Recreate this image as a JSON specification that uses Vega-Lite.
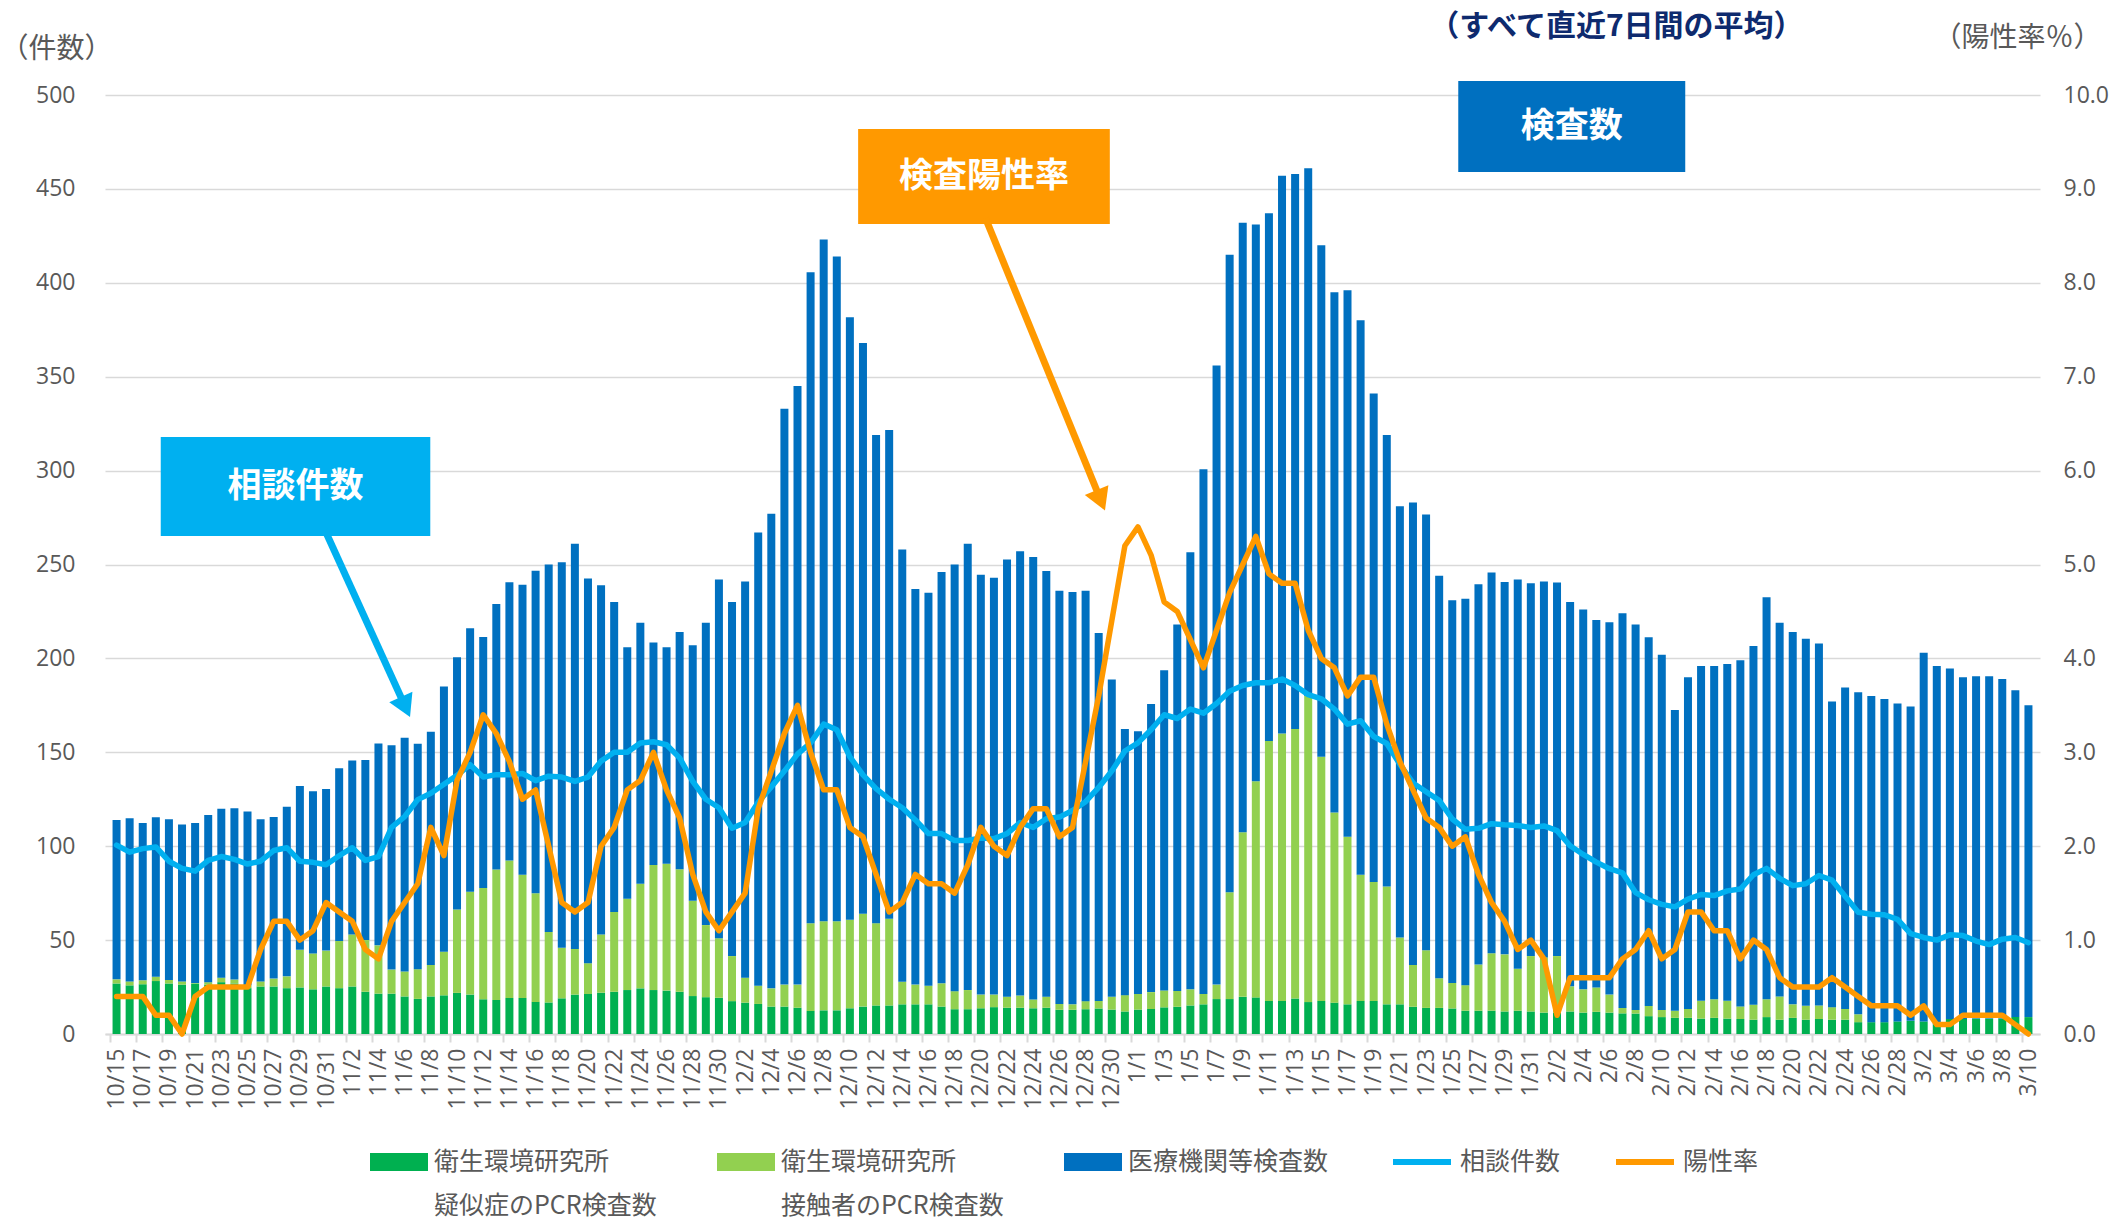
{
"$schema": "https://vega.github.io/schema/vega-lite/v6.json",
"width": 1935, "height": 939,
"autosize": {"type": "none"},
"padding": {"left": 105, "top": 95, "right": 87, "bottom": 187},
"background": "white",
"config": {"view": {"stroke": null}, "font": "Noto Sans CJK JP",
"axisX": {"labelAngle": -90, "labelAlign": "right", "labelBaseline": "middle", "labelPadding": 6,
"labelFontSize": 23, "labelColor": "#595959", "labelFont": "Open Sans",
"labelOverlap": false, "labelFlush": false, "labelBound": false, "labelSeparation": 0,
"tickOffset": -6.58, "labelOffset": 6.58, "tickSize": 8, "tickColor": "#D9D9D9", "tickWidth": 2, "tickCount": 200,
"domainColor": "#D9D9D9", "domainWidth": 2, "grid": false}},
"data": {"values": [
{"d":"2020-10-15","a":26.9,"b":2.2,"c":84.9,"s":100.6,"r":0.4},
{"d":"2020-10-16","a":25.9,"b":2.1,"c":86.9,"s":96.8,"r":0.4},
{"d":"2020-10-17","a":26.5,"b":2.1,"c":83.8,"s":98.7,"r":0.4},
{"d":"2020-10-18","a":28.2,"b":2.3,"c":84.9,"s":99.6,"r":0.2},
{"d":"2020-10-19","a":26.9,"b":1.9,"c":85.5,"s":92,"r":0.2},
{"d":"2020-10-20","a":26.3,"b":1.7,"c":83.6,"s":88.2,"r":0},
{"d":"2020-10-21","a":26.9,"b":0.3,"c":85.2,"s":86.7,"r":0.4},
{"d":"2020-10-22","a":26.3,"b":1.3,"c":89,"s":92.4,"r":0.5},
{"d":"2020-10-23","a":27.6,"b":2.4,"c":90,"s":94.5,"r":0.5},
{"d":"2020-10-24","a":26.9,"b":2.1,"c":91.2,"s":93,"r":0.5},
{"d":"2020-10-25","a":24.4,"b":1.6,"c":92.5,"s":90.5,"r":0.5},
{"d":"2020-10-26","a":25.3,"b":2.7,"c":86.3,"s":92,"r":0.9},
{"d":"2020-10-27","a":25.3,"b":4.2,"c":86.1,"s":97.7,"r":1.2},
{"d":"2020-10-28","a":24.4,"b":6.3,"c":90.3,"s":99.2,"r":1.2},
{"d":"2020-10-29","a":24.8,"b":20,"c":87.2,"s":92,"r":1},
{"d":"2020-10-30","a":23.8,"b":19.1,"c":86.4,"s":91.4,"r":1.1},
{"d":"2020-10-31","a":25.3,"b":19.1,"c":86.1,"s":90.1,"r":1.4},
{"d":"2020-11-01","a":24.4,"b":25.1,"c":92,"s":94.9,"r":1.3},
{"d":"2020-11-02","a":25.3,"b":27.7,"c":92.7,"s":99.2,"r":1.2},
{"d":"2020-11-03","a":22.5,"b":27.5,"c":95.9,"s":92.4,"r":0.9},
{"d":"2020-11-04","a":21.5,"b":25.7,"c":107.5,"s":94.5,"r":0.8},
{"d":"2020-11-05","a":21.5,"b":12.8,"c":119.4,"s":110,"r":1.2},
{"d":"2020-11-06","a":20,"b":13.3,"c":124.4,"s":115.8,"r":1.4},
{"d":"2020-11-07","a":18.7,"b":15.8,"c":120,"s":124.8,"r":1.6},
{"d":"2020-11-08","a":20,"b":16.8,"c":124.2,"s":128.2,"r":2.2},
{"d":"2020-11-09","a":20.6,"b":23.2,"c":141.2,"s":133,"r":1.9},
{"d":"2020-11-10","a":21.9,"b":44.4,"c":134.3,"s":137.7,"r":2.7},
{"d":"2020-11-11","a":21,"b":54.8,"c":140.2,"s":143.4,"r":3},
{"d":"2020-11-12","a":18.5,"b":59.2,"c":133.7,"s":136.8,"r":3.4},
{"d":"2020-11-13","a":18.1,"b":69.5,"c":141.4,"s":138.1,"r":3.2},
{"d":"2020-11-14","a":19.2,"b":73.2,"c":148.2,"s":138.1,"r":2.9},
{"d":"2020-11-15","a":19.2,"b":65.6,"c":154.4,"s":138.7,"r":2.5},
{"d":"2020-11-16","a":17.1,"b":57.8,"c":171.8,"s":134.9,"r":2.6},
{"d":"2020-11-17","a":16.8,"b":37.5,"c":195.7,"s":137.3,"r":2},
{"d":"2020-11-18","a":19,"b":26.9,"c":205.3,"s":136.8,"r":1.4},
{"d":"2020-11-19","a":21,"b":24.3,"c":215.7,"s":134.5,"r":1.3},
{"d":"2020-11-20","a":21.3,"b":16.4,"c":204.8,"s":136.8,"r":1.4},
{"d":"2020-11-21","a":22,"b":31,"c":186,"s":145.3,"r":2},
{"d":"2020-11-22","a":22.5,"b":42.5,"c":165,"s":150,"r":2.2},
{"d":"2020-11-23","a":23.4,"b":48.6,"c":134,"s":150,"r":2.6},
{"d":"2020-11-24","a":24.3,"b":55.7,"c":139,"s":155,"r":2.7},
{"d":"2020-11-25","a":23.4,"b":66.6,"c":118.5,"s":155.6,"r":3},
{"d":"2020-11-26","a":23.1,"b":67.5,"c":115.4,"s":154,"r":2.6},
{"d":"2020-11-27","a":22.5,"b":65.2,"c":126.3,"s":147,"r":2.3},
{"d":"2020-11-28","a":20.2,"b":50.8,"c":136,"s":134.5,"r":1.7},
{"d":"2020-11-29","a":19.6,"b":38.4,"c":161,"s":125,"r":1.3},
{"d":"2020-11-30","a":19.3,"b":31.7,"c":191,"s":120.5,"r":1.1},
{"d":"2020-12-01","a":17.5,"b":24,"c":188.5,"s":109.6,"r":1.3},
{"d":"2020-12-02","a":16.7,"b":13.3,"c":211,"s":112.6,"r":1.5},
{"d":"2020-12-03","a":16,"b":9.7,"c":241.3,"s":123.4,"r":2.4},
{"d":"2020-12-04","a":14.6,"b":9.7,"c":252.7,"s":131.6,"r":2.8},
{"d":"2020-12-05","a":14.6,"b":11.7,"c":306.7,"s":140,"r":3.2},
{"d":"2020-12-06","a":14,"b":12.3,"c":318.7,"s":149,"r":3.5},
{"d":"2020-12-07","a":12.3,"b":46.7,"c":346.6,"s":155,"r":3},
{"d":"2020-12-08","a":12.6,"b":47.4,"c":363,"s":165,"r":2.6},
{"d":"2020-12-09","a":12.6,"b":47.4,"c":354,"s":162,"r":2.6},
{"d":"2020-12-10","a":13.7,"b":47.1,"c":320.8,"s":147.6,"r":2.2},
{"d":"2020-12-11","a":14.6,"b":49.4,"c":304,"s":138,"r":2.1},
{"d":"2020-12-12","a":15.2,"b":43.8,"c":260,"s":130.7,"r":1.7},
{"d":"2020-12-13","a":15.2,"b":46.2,"c":260.2,"s":125,"r":1.3},
{"d":"2020-12-14","a":15.8,"b":12,"c":230.2,"s":120.5,"r":1.4},
{"d":"2020-12-15","a":15.8,"b":10.5,"c":210.7,"s":114,"r":1.7},
{"d":"2020-12-16","a":15.8,"b":9.9,"c":209.3,"s":106.7,"r":1.6},
{"d":"2020-12-17","a":14.6,"b":12.4,"c":219,"s":106.7,"r":1.6},
{"d":"2020-12-18","a":13.2,"b":9.6,"c":227.2,"s":103,"r":1.5},
{"d":"2020-12-19","a":13.2,"b":10.2,"c":237.6,"s":103,"r":1.8},
{"d":"2020-12-20","a":13.7,"b":7.3,"c":223.5,"s":104.4,"r":2.2},
{"d":"2020-12-21","a":14.3,"b":6.7,"c":222,"s":104,"r":2},
{"d":"2020-12-22","a":14,"b":5.9,"c":232.7,"s":106.7,"r":1.9},
{"d":"2020-12-23","a":14,"b":6.5,"c":236.5,"s":112.6,"r":2.2},
{"d":"2020-12-24","a":13.7,"b":4.7,"c":235.6,"s":110,"r":2.4},
{"d":"2020-12-25","a":14,"b":5.9,"c":226.6,"s":114.6,"r":2.4},
{"d":"2020-12-26","a":12.9,"b":3.1,"c":220,"s":115.5,"r":2.1},
{"d":"2020-12-27","a":12.9,"b":2.9,"c":219.6,"s":119,"r":2.2},
{"d":"2020-12-28","a":13.2,"b":4.3,"c":218.5,"s":123.7,"r":2.9},
{"d":"2020-12-29","a":13.6,"b":4,"c":195.9,"s":131.3,"r":3.6},
{"d":"2020-12-30","a":13,"b":6.8,"c":168.9,"s":140,"r":4.4},
{"d":"2020-12-31","a":12,"b":8.7,"c":141.7,"s":150.7,"r":5.2},
{"d":"2021-01-01","a":13,"b":8.3,"c":139.9,"s":155,"r":5.4},
{"d":"2021-01-02","a":13.3,"b":9,"c":153.4,"s":162,"r":5.1},
{"d":"2021-01-03","a":14.2,"b":9,"c":170.5,"s":170,"r":4.6},
{"d":"2021-01-04","a":14.5,"b":8.4,"c":195.1,"s":168,"r":4.5},
{"d":"2021-01-05","a":15.2,"b":8.6,"c":232.7,"s":173,"r":4.2},
{"d":"2021-01-06","a":15.8,"b":5.5,"c":279.4,"s":170.8,"r":3.9},
{"d":"2021-01-07","a":18.6,"b":7.7,"c":329.7,"s":176,"r":4.3},
{"d":"2021-01-08","a":18.6,"b":56.9,"c":339.5,"s":182.5,"r":4.7},
{"d":"2021-01-09","a":19.8,"b":87.6,"c":324.6,"s":185.6,"r":5},
{"d":"2021-01-10","a":19.5,"b":115.1,"c":296.4,"s":187,"r":5.3},
{"d":"2021-01-11","a":17.6,"b":138.4,"c":281,"s":187,"r":4.9},
{"d":"2021-01-12","a":17.6,"b":142.4,"c":297,"s":189,"r":4.8},
{"d":"2021-01-13","a":18.9,"b":143.5,"c":295.6,"s":185.6,"r":4.8},
{"d":"2021-01-14","a":17,"b":163,"c":281,"s":180.7,"r":4.3},
{"d":"2021-01-15","a":17.6,"b":130,"c":272.4,"s":178.5,"r":4},
{"d":"2021-01-16","a":16.7,"b":101.3,"c":277,"s":173,"r":3.9},
{"d":"2021-01-17","a":15.8,"b":89.2,"c":291,"s":165,"r":3.6},
{"d":"2021-01-18","a":17.6,"b":67.2,"c":295.2,"s":166.8,"r":3.8},
{"d":"2021-01-19","a":17.6,"b":63.4,"c":260,"s":158.4,"r":3.8},
{"d":"2021-01-20","a":15.8,"b":62.8,"c":240.4,"s":154.7,"r":3.3},
{"d":"2021-01-21","a":15.8,"b":35.6,"c":229.6,"s":143.6,"r":2.9},
{"d":"2021-01-22","a":14.5,"b":22.3,"c":246.2,"s":133.7,"r":2.6},
{"d":"2021-01-23","a":13.9,"b":30.7,"c":232,"s":129,"r":2.3},
{"d":"2021-01-24","a":13.9,"b":15.8,"c":214.3,"s":124.4,"r":2.2},
{"d":"2021-01-25","a":13.6,"b":13.6,"c":203.8,"s":114.5,"r":2},
{"d":"2021-01-26","a":12.4,"b":13.6,"c":205.7,"s":109,"r":2.1},
{"d":"2021-01-27","a":12.4,"b":24.6,"c":202.5,"s":109.5,"r":1.7},
{"d":"2021-01-28","a":12.4,"b":30.6,"c":202.7,"s":112,"r":1.4},
{"d":"2021-01-29","a":12,"b":30.4,"c":198.3,"s":111.4,"r":1.2},
{"d":"2021-01-30","a":12.4,"b":22.3,"c":207.3,"s":111,"r":0.9},
{"d":"2021-01-31","a":12,"b":29.5,"c":198.5,"s":110,"r":1},
{"d":"2021-02-01","a":11.4,"b":29.4,"c":200.2,"s":110.8,"r":0.8},
{"d":"2021-02-02","a":11.4,"b":30.1,"c":198.9,"s":108.3,"r":0.2},
{"d":"2021-02-03","a":12,"b":13.4,"c":204.6,"s":100.2,"r":0.6},
{"d":"2021-02-04","a":11.4,"b":12.4,"c":202.2,"s":95.6,"r":0.6},
{"d":"2021-02-05","a":11.8,"b":13,"c":195.7,"s":91.5,"r":0.6},
{"d":"2021-02-06","a":11.4,"b":9.6,"c":198.3,"s":88,"r":0.6},
{"d":"2021-02-07","a":11,"b":2.9,"c":210.1,"s":85.8,"r":0.8},
{"d":"2021-02-08","a":10.9,"b":1.9,"c":205.2,"s":75.3,"r":0.9},
{"d":"2021-02-09","a":9.5,"b":5.4,"c":196.4,"s":71.5,"r":1.1},
{"d":"2021-02-10","a":9,"b":3.8,"c":189.2,"s":69,"r":0.8},
{"d":"2021-02-11","a":8.6,"b":3.8,"c":160.1,"s":67.7,"r":0.9},
{"d":"2021-02-12","a":8.6,"b":4.7,"c":176.7,"s":71.8,"r":1.3},
{"d":"2021-02-13","a":8.2,"b":9.5,"c":178.3,"s":74.3,"r":1.3},
{"d":"2021-02-14","a":8.6,"b":9.9,"c":177.5,"s":73.7,"r":1.1},
{"d":"2021-02-15","a":8.2,"b":9.5,"c":179.3,"s":76.2,"r":1.1},
{"d":"2021-02-16","a":8,"b":6.7,"c":184.3,"s":77.2,"r":0.8},
{"d":"2021-02-17","a":7.6,"b":8,"c":191,"s":84.8,"r":1},
{"d":"2021-02-18","a":9,"b":9.5,"c":214,"s":88.2,"r":0.9},
{"d":"2021-02-19","a":7.6,"b":12.4,"c":199,"s":82.9,"r":0.6},
{"d":"2021-02-20","a":8.6,"b":7.2,"c":198.2,"s":79,"r":0.5},
{"d":"2021-02-21","a":7.6,"b":7.4,"c":195.5,"s":80,"r":0.5},
{"d":"2021-02-22","a":8,"b":7.2,"c":192.8,"s":84.4,"r":0.5},
{"d":"2021-02-23","a":7.6,"b":6.7,"c":162.7,"s":81.9,"r":0.6},
{"d":"2021-02-24","a":7.6,"b":5.7,"c":171.2,"s":73.4,"r":0.5},
{"d":"2021-02-25","a":6.3,"b":4.2,"c":171.5,"s":64.8,"r":0.4},
{"d":"2021-02-26","a":6.3,"b":0,"c":173.7,"s":63.8,"r":0.3},
{"d":"2021-02-27","a":6.3,"b":0,"c":172.1,"s":63.5,"r":0.3},
{"d":"2021-02-28","a":6.7,"b":0,"c":169.3,"s":61,"r":0.3},
{"d":"2021-03-01","a":7,"b":0,"c":167.4,"s":53.4,"r":0.2},
{"d":"2021-03-02","a":6.7,"b":0,"c":196.3,"s":51.4,"r":0.3},
{"d":"2021-03-03","a":5.1,"b":0,"c":190.9,"s":50,"r":0.1},
{"d":"2021-03-04","a":8,"b":0,"c":186.6,"s":52.8,"r":0.1},
{"d":"2021-03-05","a":8,"b":0,"c":182,"s":52.4,"r":0.2},
{"d":"2021-03-06","a":8.2,"b":0,"c":182.3,"s":49.5,"r":0.2},
{"d":"2021-03-07","a":8.2,"b":0,"c":182.3,"s":47.6,"r":0.2},
{"d":"2021-03-08","a":8.2,"b":0,"c":180.8,"s":50.5,"r":0.2},
{"d":"2021-03-09","a":9.1,"b":0,"c":173.9,"s":51.4,"r":0.1},
{"d":"2021-03-10","a":9,"b":0,"c":166,"s":48.6,"r":0}
]},
"layer": [
{"layer": [
{
"transform": [{"fold": ["a","b","c"], "as": ["k","v"]}],
"mark": {"type": "bar", "width": 8},
"encoding": {
"x": {"field": "d", "type": "temporal",
"scale": {"type": "utc", "domain": [{"year":2020,"month":10,"date":14,"hours":12,"utc":true},{"year":2021,"month":3,"date":10,"hours":12,"utc":true}]},
"axis": {"title": null, "labelExpr": "utcFormat(datum.value, '%-m/%-d')", "labelOverlap": false, "tickCount": 200,
"values": [
{"year":2020,"month":10,"date":15,"utc":true},{"year":2020,"month":10,"date":17,"utc":true},{"year":2020,"month":10,"date":19,"utc":true},{"year":2020,"month":10,"date":21,"utc":true},{"year":2020,"month":10,"date":23,"utc":true},{"year":2020,"month":10,"date":25,"utc":true},{"year":2020,"month":10,"date":27,"utc":true},{"year":2020,"month":10,"date":29,"utc":true},{"year":2020,"month":10,"date":31,"utc":true},
{"year":2020,"month":11,"date":2,"utc":true},{"year":2020,"month":11,"date":4,"utc":true},{"year":2020,"month":11,"date":6,"utc":true},{"year":2020,"month":11,"date":8,"utc":true},{"year":2020,"month":11,"date":10,"utc":true},{"year":2020,"month":11,"date":12,"utc":true},{"year":2020,"month":11,"date":14,"utc":true},{"year":2020,"month":11,"date":16,"utc":true},{"year":2020,"month":11,"date":18,"utc":true},{"year":2020,"month":11,"date":20,"utc":true},{"year":2020,"month":11,"date":22,"utc":true},{"year":2020,"month":11,"date":24,"utc":true},{"year":2020,"month":11,"date":26,"utc":true},{"year":2020,"month":11,"date":28,"utc":true},{"year":2020,"month":11,"date":30,"utc":true},
{"year":2020,"month":12,"date":2,"utc":true},{"year":2020,"month":12,"date":4,"utc":true},{"year":2020,"month":12,"date":6,"utc":true},{"year":2020,"month":12,"date":8,"utc":true},{"year":2020,"month":12,"date":10,"utc":true},{"year":2020,"month":12,"date":12,"utc":true},{"year":2020,"month":12,"date":14,"utc":true},{"year":2020,"month":12,"date":16,"utc":true},{"year":2020,"month":12,"date":18,"utc":true},{"year":2020,"month":12,"date":20,"utc":true},{"year":2020,"month":12,"date":22,"utc":true},{"year":2020,"month":12,"date":24,"utc":true},{"year":2020,"month":12,"date":26,"utc":true},{"year":2020,"month":12,"date":28,"utc":true},{"year":2020,"month":12,"date":30,"utc":true},
{"year":2021,"month":1,"date":1,"utc":true},{"year":2021,"month":1,"date":3,"utc":true},{"year":2021,"month":1,"date":5,"utc":true},{"year":2021,"month":1,"date":7,"utc":true},{"year":2021,"month":1,"date":9,"utc":true},{"year":2021,"month":1,"date":11,"utc":true},{"year":2021,"month":1,"date":13,"utc":true},{"year":2021,"month":1,"date":15,"utc":true},{"year":2021,"month":1,"date":17,"utc":true},{"year":2021,"month":1,"date":19,"utc":true},{"year":2021,"month":1,"date":21,"utc":true},{"year":2021,"month":1,"date":23,"utc":true},{"year":2021,"month":1,"date":25,"utc":true},{"year":2021,"month":1,"date":27,"utc":true},{"year":2021,"month":1,"date":29,"utc":true},{"year":2021,"month":1,"date":31,"utc":true},
{"year":2021,"month":2,"date":2,"utc":true},{"year":2021,"month":2,"date":4,"utc":true},{"year":2021,"month":2,"date":6,"utc":true},{"year":2021,"month":2,"date":8,"utc":true},{"year":2021,"month":2,"date":10,"utc":true},{"year":2021,"month":2,"date":12,"utc":true},{"year":2021,"month":2,"date":14,"utc":true},{"year":2021,"month":2,"date":16,"utc":true},{"year":2021,"month":2,"date":18,"utc":true},{"year":2021,"month":2,"date":20,"utc":true},{"year":2021,"month":2,"date":22,"utc":true},{"year":2021,"month":2,"date":24,"utc":true},{"year":2021,"month":2,"date":26,"utc":true},{"year":2021,"month":2,"date":28,"utc":true},
{"year":2021,"month":3,"date":2,"utc":true},{"year":2021,"month":3,"date":4,"utc":true},{"year":2021,"month":3,"date":6,"utc":true},{"year":2021,"month":3,"date":8,"utc":true},{"year":2021,"month":3,"date":10,"utc":true}]}},
"y": {"field": "v", "type": "quantitative", "stack": "zero",
"scale": {"domain": [0, 500], "nice": false},
"axis": {"values": [0,50,100,150,200,250,300,350,400,450,500], "grid": true, "gridColor": "#D9D9D9", "gridWidth": 1.5,
"domain": false, "ticks": false, "labelPadding": 30, "labelFontSize": 23, "labelColor": "#595959", "labelFont": "Open Sans",
"title": "（件数）", "titleAngle": 0, "titleAlign": "left", "titleBaseline": "middle", "titleX": -105, "titleY": -46,
"titleFontSize": 28, "titleFontWeight": "normal", "titleColor": "#595959", "titleFont": "Noto Sans CJK JP"}},
"color": {"field": "k", "type": "nominal",
"scale": {"domain": ["a","b","c"], "range": ["#00B050","#92D050","#0070C0"]},
"legend": {"orient": "none", "legendX": 265, "legendY": 1038, "direction": "horizontal", "title": null,
"symbolType": "M-1,-0.31H1V0.31H-1Z", "symbolSize": 3364, "symbolStrokeWidth": 0, "symbolOpacity": 1,
"labelExpr": "datum.value == 'a' ? ['衛生環境研究所', '疑似症のPCR検査数'] : datum.value == 'b' ? ['衛生環境研究所', '接触者のPCR検査数'] : ['医療機関等検査数', '']",
"labelFontSize": 25, "labelColor": "#595959", "labelFont": "Noto Sans CJK JP", "labelOffset": 6, "columnPadding": 60, "labelLimit": 400,
"encode": {"labels": {"update": {"lineHeight": {"value": 44}}}}}},
"order": {"field": "k", "sort": "ascending"}
}
},
{
"mark": {"type": "line", "strokeWidth": 5.5, "strokeJoin": "round", "strokeCap": "round"},
"encoding": {
"x": {"field": "d", "type": "temporal", "scale": {"type": "utc", "domain": [{"year":2020,"month":10,"date":14,"hours":12,"utc":true},{"year":2021,"month":3,"date":10,"hours":12,"utc":true}]}},
"y": {"field": "s", "type": "quantitative", "scale": {"domain": [0, 500], "nice": false}},
"stroke": {"datum": "相談件数", "type": "nominal",
"scale": {"domain": ["相談件数","陽性率"], "range": ["#00B0F0","#FF9900"]},
"legend": {"orient": "none", "legendX": 1285, "legendY": 1035, "direction": "horizontal", "title": null,
"symbolType": "stroke", "symbolSize": 3364, "symbolStrokeWidth": 6,
"labelFontSize": 25, "labelColor": "#595959", "labelFont": "Noto Sans CJK JP", "labelOffset": 6, "columnPadding": 43, "labelLimit": 400}}
}
},
{
"data": {"values": [{}]},
"mark": {"type": "rect", "color": "#00B0F0"},
"encoding": {
"x": {"datum": {"year":2020,"month":10,"date":18,"hours":9,"utc":true}, "type": "temporal"},
"x2": {"datum": {"year":2020,"month":11,"date":7,"hours":23,"utc":true}},
"y": {"datum": 317.9, "type": "quantitative"},
"y2": {"datum": 265.2}
}
},
{
"data": {"values": [{}]},
"mark": {"type": "rect", "color": "#FF9900"},
"encoding": {
"x": {"datum": {"year":2020,"month":12,"date":10,"hours":15,"minutes":7,"utc":true}, "type": "temporal"},
"x2": {"datum": {"year":2020,"month":12,"date":29,"hours":20,"minutes":24,"utc":true}},
"y": {"datum": 481.9, "type": "quantitative"},
"y2": {"datum": 431.3}
}
},
{
"data": {"values": [{}]},
"mark": {"type": "rect", "color": "#0070C0"},
"encoding": {
"x": {"datum": {"year":2021,"month":1,"date":25,"hours":11,"utc":true}, "type": "temporal"},
"x2": {"datum": {"year":2021,"month":2,"date":11,"hours":19,"utc":true}},
"y": {"datum": 507.5, "type": "quantitative"},
"y2": {"datum": 459.0}
}
},
{
"data": {"values": [{}]},
"mark": {"type": "rule", "color": "#00B0F0", "strokeWidth": 7},
"encoding": {
"x": {"datum": {"year":2020,"month":10,"date":30,"hours":21,"minutes":50,"utc":true}, "type": "temporal"},
"x2": {"datum": {"year":2020,"month":11,"date":6,"hours":1,"minutes":26,"utc":true}},
"y": {"datum": 268.4, "type": "quantitative"},
"y2": {"datum": 174.1}
}
},
{
"data": {"values": [{}]},
"mark": {"type": "point", "shape": "triangle-down", "filled": true, "opacity": 1, "color": "#00B0F0", "size": 650, "angle": -24.6},
"encoding": {
"x": {"datum": {"year":2020,"month":11,"date":6,"hours":1,"minutes":26,"utc":true}, "type": "temporal"},
"y": {"datum": 174.1, "type": "quantitative"}
}
},
{
"data": {"values": [{}]},
"mark": {"type": "rule", "color": "#FF9900", "strokeWidth": 7},
"encoding": {
"x": {"datum": {"year":2020,"month":12,"date":20,"hours":8,"minutes":24,"utc":true}, "type": "temporal"},
"x2": {"datum": {"year":2020,"month":12,"date":29,"hours":3,"minutes":50,"utc":true}},
"y": {"datum": 434.5, "type": "quantitative"},
"y2": {"datum": 284.2}
}
},
{
"data": {"values": [{}]},
"mark": {"type": "point", "shape": "triangle-down", "filled": true, "opacity": 1, "color": "#FF9900", "size": 650, "angle": -22.3},
"encoding": {
"x": {"datum": {"year":2020,"month":12,"date":29,"hours":3,"minutes":50,"utc":true}, "type": "temporal"},
"y": {"datum": 284.2, "type": "quantitative"}
}
},
{
"data": {"values": [{}]},
"mark": {"type": "text", "text": "相談件数", "color": "white", "fontSize": 34, "fontWeight": "bold", "font": "Noto Sans CJK JP", "align": "center", "baseline": "middle"},
"encoding": {
"x": {"datum": {"year":2020,"month":10,"date":28,"hours":16,"utc":true}, "type": "temporal"},
"y": {"datum": 291.5, "type": "quantitative"}
}
},
{
"data": {"values": [{}]},
"mark": {"type": "text", "text": "検査陽性率", "color": "white", "fontSize": 34, "fontWeight": "bold", "font": "Noto Sans CJK JP", "align": "center", "baseline": "middle"},
"encoding": {
"x": {"datum": {"year":2020,"month":12,"date":20,"hours":5,"minutes":46,"utc":true}, "type": "temporal"},
"y": {"datum": 456.6, "type": "quantitative"}
}
},
{
"data": {"values": [{}]},
"mark": {"type": "text", "text": "検査数", "color": "white", "fontSize": 34, "fontWeight": "bold", "font": "Noto Sans CJK JP", "align": "center", "baseline": "middle"},
"encoding": {
"x": {"datum": {"year":2021,"month":2,"date":3,"hours":3,"utc":true}, "type": "temporal"},
"y": {"datum": 483.2, "type": "quantitative"}
}
},
{
"data": {"values": [{}]},
"mark": {"type": "text", "text": "（すべて直近7日間の平均）", "color": "#0E2A6E", "fontSize": 30, "fontWeight": "bold", "font": "Noto Sans CJK JP", "align": "left", "baseline": "middle"},
"encoding": {
"x": {"datum": {"year":2021,"month":1,"date":23,"hours":5,"minutes":45,"utc":true}, "type": "temporal"},
"y": {"datum": 536.2, "type": "quantitative"}
}
}
]},
{
"mark": {"type": "line", "strokeWidth": 5.5, "strokeJoin": "round", "strokeCap": "round"},
"encoding": {
"x": {"field": "d", "type": "temporal", "scale": {"type": "utc", "domain": [{"year":2020,"month":10,"date":14,"hours":12,"utc":true},{"year":2021,"month":3,"date":10,"hours":12,"utc":true}]}},
"y": {"field": "r", "type": "quantitative", "scale": {"domain": [0, 10], "nice": false},
"axis": {"orient": "right", "values": [0,1,2,3,4,5,6,7,8,9,10], "format": ".1f", "grid": false, "domain": false, "ticks": false,
"labelPadding": 23, "labelFontSize": 23, "labelColor": "#595959", "labelFont": "Open Sans",
"title": "（陽性率％）", "titleAngle": 0, "titleAlign": "left", "titleBaseline": "middle", "titleX": -107, "titleY": -57,
"titleFontSize": 28, "titleFontWeight": "normal", "titleColor": "#595959", "titleFont": "Noto Sans CJK JP"}},
"stroke": {"datum": "陽性率", "type": "nominal", "scale": {"domain": ["相談件数","陽性率"], "range": ["#00B0F0","#FF9900"]}}
}
}
],
"resolve": {"scale": {"y": "independent"}}
}
